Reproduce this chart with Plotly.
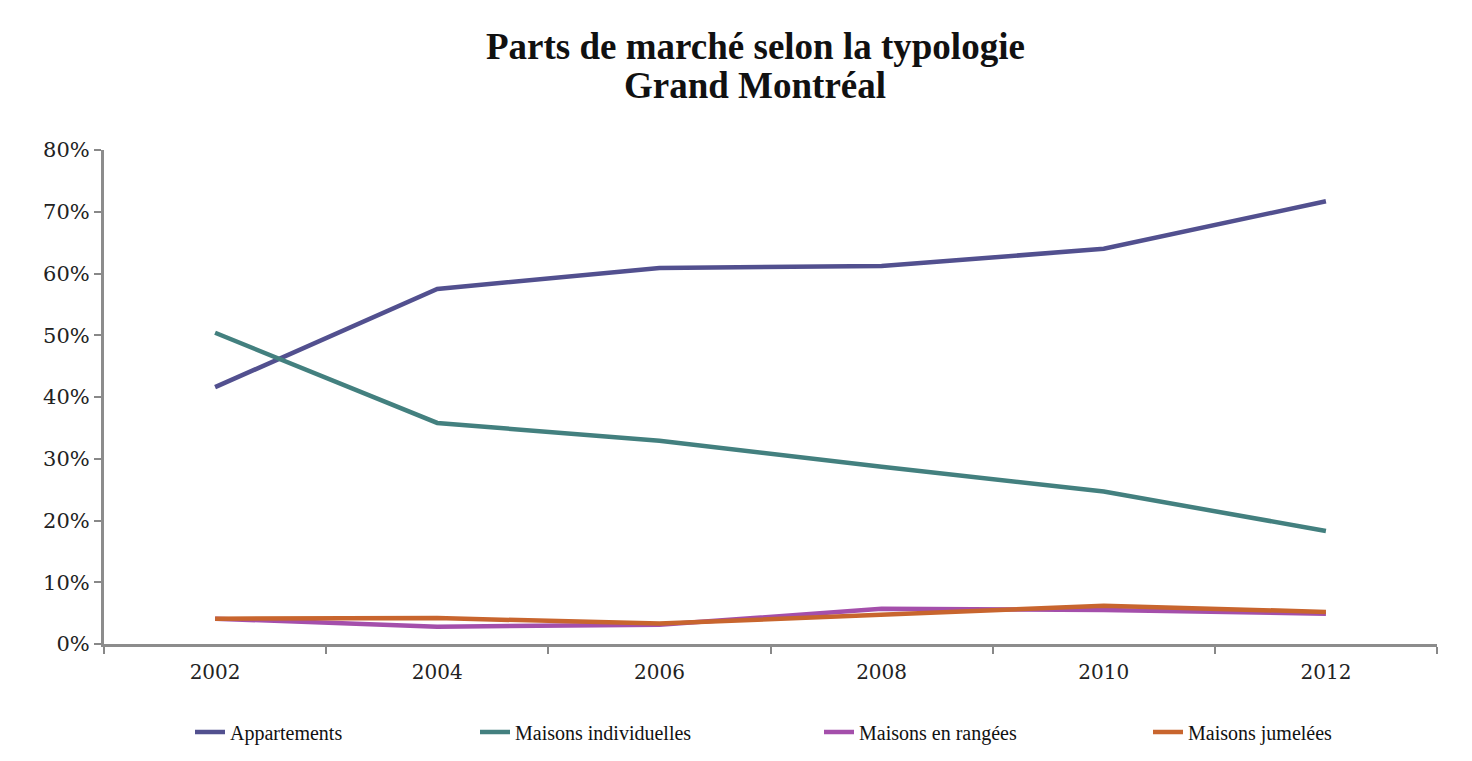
import plotly.graph_objects as go

years = ["2002", "2004", "2006", "2008", "2010", "2012"]
appartements = [41.6, 57.5, 60.9, 61.2, 64.0, 71.7]
maisons_individuelles = [50.4, 35.8, 32.9, 28.7, 24.7, 18.3]
maisons_rangees = [4.1, 2.8, 3.1, 5.7, 5.5, 4.9]
maisons_jumelees = [4.1, 4.2, 3.3, 4.7, 6.2, 5.2]

series_names = ["Appartements", "Maisons individuelles", "Maisons en rangées", "Maisons jumelées"]
series_values = [appartements, maisons_individuelles, maisons_rangees, maisons_jumelees]
colors = ["#52508f", "#43807f", "#a44fab", "#c8652e"]
legend_ids = ["legend", "legend2", "legend3", "legend4"]

# page has an 8px body margin; figure coordinates = screen - 8
OFF = 8
W, H = 1456, 745
L, R, T, B = 96, 27, 142, 109
pw, ph = W - L - R, H - T - B

def px_x(sx):
    return (sx - OFF - L) / pw

def px_y(sy):
    return (H - B - (sy - OFF)) / ph

def cx(sx):
    return (sx - OFF) / W

def cy(sy):
    return 1 - (sy - OFF) / H

fig = go.Figure()
for name, vals, col, lg in zip(series_names, series_values, colors, legend_ids):
    fig.add_trace(go.Scatter(
        x=years, y=vals, mode="lines", name=name,
        line=dict(color=col, width=4.5),
        legend=lg,
    ))

legend_screen_x = [190, 475, 819, 1148]
common_legend = dict(
    orientation="h", yanchor="middle", xanchor="left",
    xref="container", yref="container",
    font=dict(family="Liberation Serif", size=20, color="#111"),
    bgcolor="rgba(0,0,0,0)",
)
legend_layout = {}
for lg, lx in zip(legend_ids, legend_screen_x):
    legend_layout[lg] = dict(common_legend, x=cx(lx), y=cy(732))

title_lines = ["<b>Parts de marché selon la typologie</b>", "<b>Grand Montréal</b>"]
title_screen_y = [46, 85]
annotations = [
    dict(text=t, x=px_x(755), y=px_y(sy), xref="paper", yref="paper",
         xanchor="center", yanchor="middle", showarrow=False,
         font=dict(family="Liberation Serif", size=37, color="#111"))
    for t, sy in zip(title_lines, title_screen_y)
]

fig.update_layout(
    width=W, height=H,
    margin=dict(l=L, r=R, t=T, b=B),
    paper_bgcolor="white",
    plot_bgcolor="rgba(0,0,0,0)",
    annotations=annotations,
    showlegend=True,
    **legend_layout,
)

fig.update_xaxes(
    type="category", range=[-0.5, 5.5],
    tickson="boundaries", ticks="outside", ticklen=7, tickwidth=1.5, tickcolor="#888",
    showline=True, linecolor="#8c8c8c", linewidth=3,
    showgrid=False, zeroline=False,
    tickfont=dict(family="DejaVu Serif", size=20, color="#222"),
    ticklabelstandoff=8,
)
fig.update_yaxes(
    range=[0, 80], dtick=10, ticksuffix="%",
    ticks="outside", ticklen=7, tickwidth=1.5, tickcolor="#888",
    showline=True, linecolor="#8c8c8c", linewidth=3,
    showgrid=False, zeroline=False,
    tickfont=dict(family="DejaVu Serif", size=21, color="#222"),
    ticklabelstandoff=0,
)

fig.write_html("out.html")
